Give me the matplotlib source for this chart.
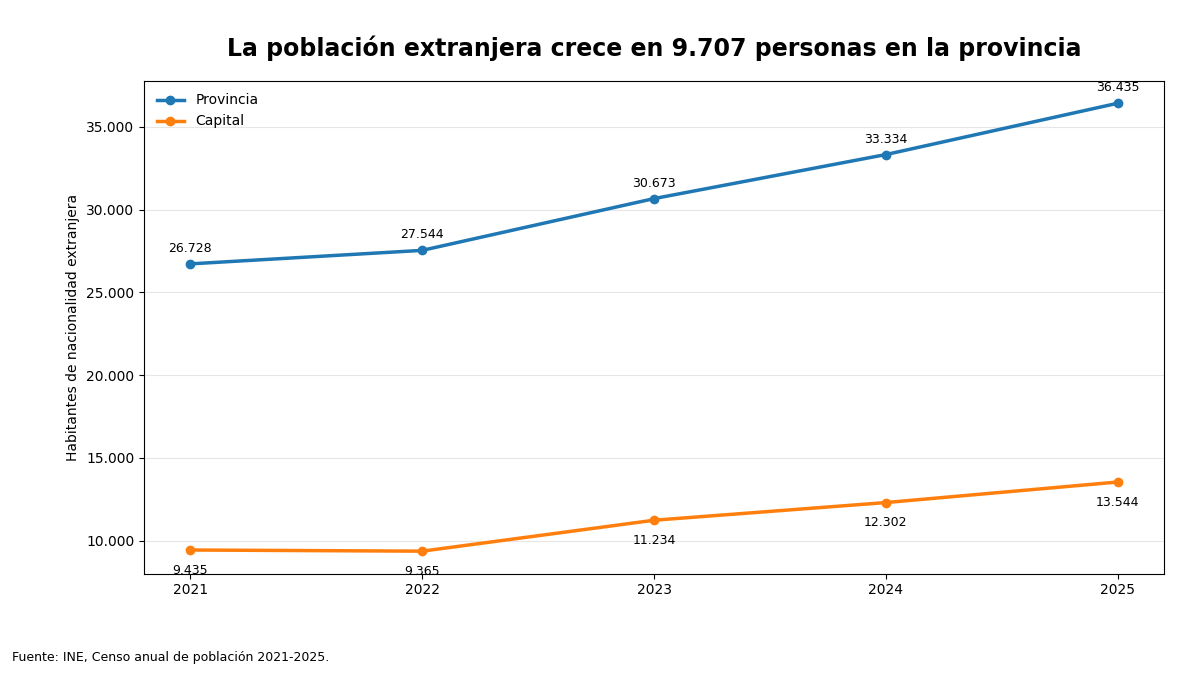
import numpy as np
import matplotlib

matplotlib.use("Agg")
import matplotlib.pyplot as plt
from matplotlib.ticker import FuncFormatter

years = [2021, 2022, 2023, 2024, 2025]
provincia = [26728, 27544, 30673, 33334, 36435]
capital = [9435, 9365, 11234, 12302, 13544]

title = "La población extranjera crece en 9.707 personas en la provincia"
ylabel = "Habitantes de nacionalidad extranjera"
source = "Fuente: INE, Censo anual de población 2021-2025."


def fmt_es(v):
    return f"{int(round(v)):,}".replace(",", ".")


fig = plt.figure(figsize=(12, 6.75), dpi=100)
ax = fig.add_axes([0.12, 0.15, 0.85, 0.73])

ax.plot(years, provincia, marker="o", color="#1f77b4", linewidth=2.5, markersize=6, label="Provincia")
ax.plot(years, capital, marker="o", color="#ff7f0e", linewidth=2.5, markersize=6, label="Capital")

for x, y in zip(years, provincia):
    ax.annotate(fmt_es(y), (x, y), xytext=(0, 6.5), textcoords="offset points",
                ha="center", va="bottom", fontsize=9)
for x, y in zip(years, capital):
    ax.annotate(fmt_es(y), (x, y), xytext=(0, -10), textcoords="offset points",
                ha="center", va="top", fontsize=9)

ax.set_xticks(years)
ax.set_xlim(2020.8, 2025.2)
ax.set_ylim(8000, 37780)
ax.yaxis.set_major_formatter(FuncFormatter(lambda v, p: fmt_es(v)))
ax.grid(axis="y", color="#e6e6e6", linewidth=0.8)
ax.set_axisbelow(True)
ax.set_ylabel(ylabel, fontsize=10)
ax.set_title(title, fontsize=17, fontweight="bold", pad=18)
ax.legend(loc="upper left", frameon=False, fontsize=10)

fig.text(0.01, 0.021, source, fontsize=9)

fig.savefig("out.png", dpi=100)
plt.close(fig)
